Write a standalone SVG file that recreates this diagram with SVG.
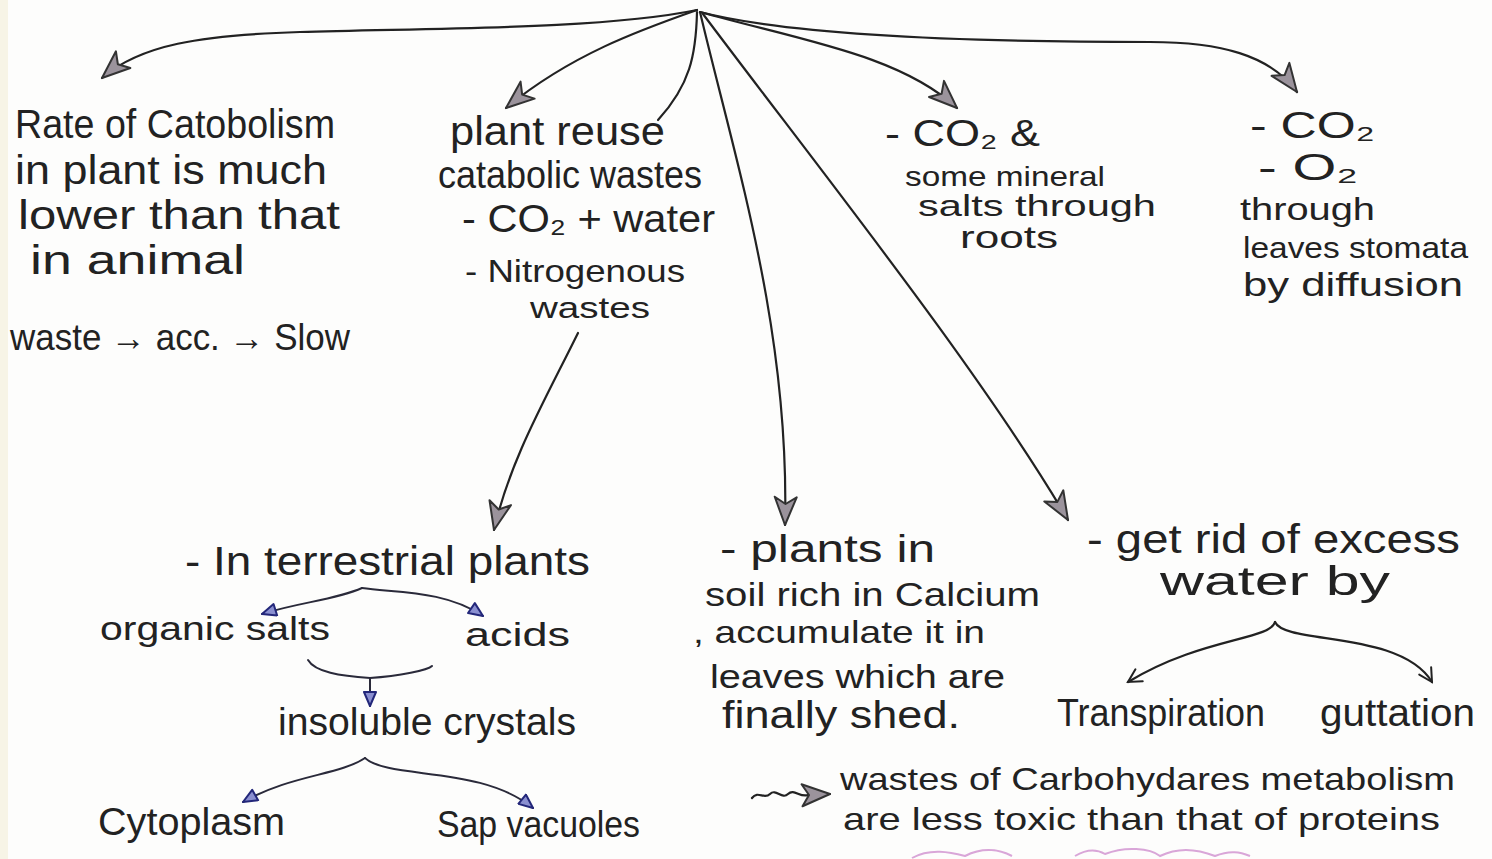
<svg xmlns="http://www.w3.org/2000/svg" width="1492" height="859" viewBox="0 0 1492 859">
<style>
.t{font-family:"Liberation Sans",Arial,sans-serif;fill:#222;font-size:36px}
.c{fill:none;stroke:#222;stroke-width:2.2;stroke-linecap:round}
.b{fill:none;stroke:#2a2a3a;stroke-width:2;stroke-linecap:round}
</style>
<defs>
<marker id="big" markerUnits="userSpaceOnUse" markerWidth="32" markerHeight="26" viewBox="0 0 32 26" refX="30" refY="13" orient="auto">
<path d="M2,2 L30,13 L2,24 L9,13 Z" fill="#9b939c" stroke="#333" stroke-width="2" stroke-linejoin="round"/>
</marker>
<marker id="blue" markerUnits="userSpaceOnUse" markerWidth="18" markerHeight="14" viewBox="0 0 18 14" refX="16" refY="7" orient="auto">
<path d="M2,1 L16,7 L2,13 Z" fill="#8a8fd0" stroke="#23277a" stroke-width="2" stroke-linejoin="round"/>
</marker>
<marker id="vee" markerUnits="userSpaceOnUse" markerWidth="18" markerHeight="18" viewBox="0 0 18 18" refX="16" refY="9" orient="auto">
<path d="M3,2 L16,9 L3,16" fill="none" stroke="#222" stroke-width="2" stroke-linecap="round"/>
</marker>
</defs>
<rect width="1492" height="859" fill="#fdfdfc"/>
<rect width="8" height="859" fill="#f7f4e6"/>

<g id="connectors">
<path class="c" d="M697,10 C600,30 420,28 300,32 C200,35 140,45 102,78" marker-end="url(#big)"/>
<path class="c" d="M697,10 C640,30 570,55 506,108" marker-end="url(#big)"/>
<path class="c" d="M697,12 C696,55 690,85 658,120"/>
<path class="c" d="M700,12 C735,160 790,330 785,525" marker-end="url(#big)"/>
<path class="c" d="M703,14 C820,170 980,370 1068,520" marker-end="url(#big)"/>
<path class="c" d="M700,12 C800,40 900,55 957,108" marker-end="url(#big)"/>
<path class="c" d="M700,12 C800,38 1000,42 1150,42 C1220,42 1270,55 1297,92" marker-end="url(#big)"/>
<path class="c" d="M578,333 C545,400 510,460 494,530" marker-end="url(#big)"/>
<path class="b" d="M362,588 C335,600 300,602 262,614" marker-end="url(#blue)"/>
<path class="b" d="M362,588 C395,593 445,590 483,616" marker-end="url(#blue)"/>
<path class="b" d="M308,660 C315,672 340,676 370,678 C400,676 428,670 432,666"/>
<path class="b" d="M370,678 L370,706" marker-end="url(#blue)"/>
<path class="b" d="M365,758 C340,775 290,775 243,802" marker-end="url(#blue)"/>
<path class="b" d="M365,758 C390,780 480,765 533,808" marker-end="url(#blue)"/>
<path class="c" d="M1275,622 C1270,640 1200,638 1128,682" marker-end="url(#vee)"/>
<path class="c" d="M1275,622 C1285,645 1400,630 1432,682" marker-end="url(#vee)"/>
<path class="c" d="M752,798 C758,790 764,800 770,794 C776,788 782,800 788,794 C794,788 800,798 808,795 L830,794" marker-end="url(#big)"/>
</g>

<g id="rate">
<text class="t" x="15" y="138" textLength="320" lengthAdjust="spacingAndGlyphs" style="font-size:40px">Rate of Catobolism</text>
<text class="t" x="15" y="184" textLength="312" lengthAdjust="spacingAndGlyphs" style="font-size:40px">in plant is much</text>
<text class="t" x="18" y="229" textLength="322" lengthAdjust="spacingAndGlyphs" style="font-size:40px">lower than that</text>
<text class="t" x="30" y="274" textLength="215" lengthAdjust="spacingAndGlyphs" style="font-size:40px">in animal</text>
<text class="t" x="10" y="350" textLength="340" lengthAdjust="spacingAndGlyphs" style="font-size:36px">waste → acc. → Slow</text>
</g>

<g id="reuse">
<text class="t" x="450" y="145" textLength="215" lengthAdjust="spacingAndGlyphs" style="font-size:40px">plant reuse</text>
<text class="t" x="438" y="188" textLength="264" lengthAdjust="spacingAndGlyphs" style="font-size:38px">catabolic wastes</text>
<text class="t" x="462" y="232" textLength="253" lengthAdjust="spacingAndGlyphs" style="font-size:38px">- CO₂ + water</text>
<text class="t" x="465" y="282" textLength="220" lengthAdjust="spacingAndGlyphs" style="font-size:32px">- Nitrogenous</text>
<text class="t" x="530" y="318" textLength="120" lengthAdjust="spacingAndGlyphs" style="font-size:30px">wastes</text>
</g>

<g id="roots">
<text class="t" x="885" y="146" textLength="155" lengthAdjust="spacingAndGlyphs" style="font-size:36px">- CO₂ &amp;</text>
<text class="t" x="905" y="186" textLength="200" lengthAdjust="spacingAndGlyphs" style="font-size:28px">some mineral</text>
<text class="t" x="918" y="216" textLength="238" lengthAdjust="spacingAndGlyphs" style="font-size:30px">salts through</text>
<text class="t" x="960" y="248" textLength="98" lengthAdjust="spacingAndGlyphs" style="font-size:32px">roots</text>
</g>

<g id="stomata">
<text class="t" x="1250" y="138" textLength="125" lengthAdjust="spacingAndGlyphs" style="font-size:36px">- CO₂</text>
<text class="t" x="1258" y="180" textLength="100" lengthAdjust="spacingAndGlyphs" style="font-size:36px">- O₂</text>
<text class="t" x="1240" y="220" textLength="135" lengthAdjust="spacingAndGlyphs" style="font-size:32px">through</text>
<text class="t" x="1243" y="258" textLength="225" lengthAdjust="spacingAndGlyphs" style="font-size:30px">leaves stomata</text>
<text class="t" x="1243" y="296" textLength="220" lengthAdjust="spacingAndGlyphs" style="font-size:34px">by diffusion</text>
</g>

<g id="terrestrial">
<text class="t" x="185" y="575" textLength="405" lengthAdjust="spacingAndGlyphs" style="font-size:40px">- In terrestrial plants</text>
</g>
<g id="organic-salts">
<text class="t" x="100" y="640" textLength="230" lengthAdjust="spacingAndGlyphs" style="font-size:34px">organic salts</text>
</g>
<g id="acids">
<text class="t" x="465" y="646" textLength="105" lengthAdjust="spacingAndGlyphs" style="font-size:34px">acids</text>
</g>
<g id="crystals">
<text class="t" x="278" y="735" textLength="298" lengthAdjust="spacingAndGlyphs" style="font-size:38px">insoluble crystals</text>
</g>
<g id="cytoplasm">
<text class="t" x="98" y="835" textLength="187" lengthAdjust="spacingAndGlyphs" style="font-size:38px">Cytoplasm</text>
</g>
<g id="sap">
<text class="t" x="437" y="837" textLength="203" lengthAdjust="spacingAndGlyphs" style="font-size:36px">Sap vacuoles</text>
</g>

<g id="calcium">
<text class="t" x="720" y="562" textLength="215" lengthAdjust="spacingAndGlyphs" style="font-size:38px">- plants in</text>
<text class="t" x="705" y="606" textLength="335" lengthAdjust="spacingAndGlyphs" style="font-size:34px">soil rich in Calcium</text>
<text class="t" x="693" y="643" textLength="292" lengthAdjust="spacingAndGlyphs" style="font-size:32px">, accumulate it in</text>
<text class="t" x="710" y="688" textLength="295" lengthAdjust="spacingAndGlyphs" style="font-size:34px">leaves which are</text>
<text class="t" x="722" y="728" textLength="238" lengthAdjust="spacingAndGlyphs" style="font-size:38px">finally shed.</text>
</g>

<g id="water">
<text class="t" x="1087" y="553" textLength="373" lengthAdjust="spacingAndGlyphs" style="font-size:40px">- get rid of excess</text>
<text class="t" x="1160" y="595" textLength="230" lengthAdjust="spacingAndGlyphs" style="font-size:40px">water by</text>
</g>
<g id="transpiration">
<text class="t" x="1057" y="726" textLength="208" lengthAdjust="spacingAndGlyphs" style="font-size:38px">Transpiration</text>
</g>
<g id="guttation">
<text class="t" x="1320" y="726" textLength="155" lengthAdjust="spacingAndGlyphs" style="font-size:38px">guttation</text>
</g>

<g id="note">
<text class="t" x="840" y="790" textLength="615" lengthAdjust="spacingAndGlyphs" style="font-size:32px">wastes of Carbohydares metabolism</text>
<text class="t" x="843" y="830" textLength="597" lengthAdjust="spacingAndGlyphs" style="font-size:32px">are less toxic than that of proteins</text>
</g>

<path d="M912,858 C930,848 950,852 965,856 C985,846 1000,850 1012,856 M1075,856 C1085,850 1095,848 1105,854 C1125,846 1150,848 1160,856 C1180,846 1200,850 1215,856 C1230,850 1240,852 1250,856" fill="none" stroke="#d9a6d8" stroke-width="2"/>
</svg>
